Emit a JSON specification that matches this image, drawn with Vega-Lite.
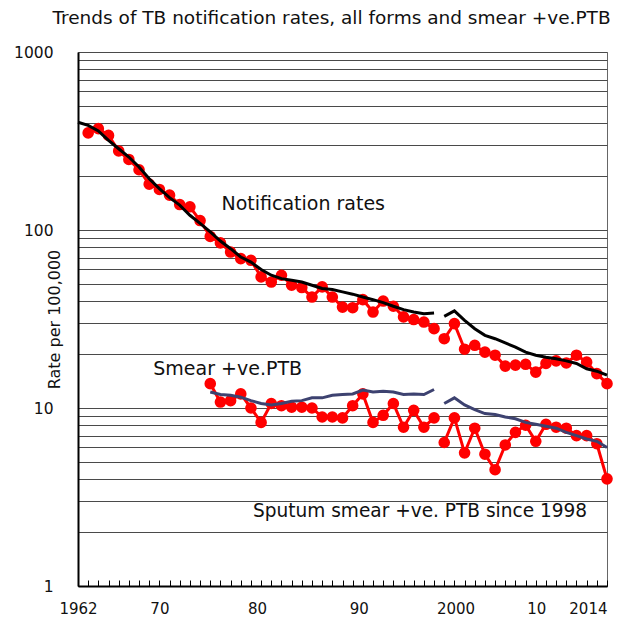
{
  "$schema": "https://vega.github.io/schema/vega-lite/v6.json",
  "width": 529,
  "height": 534,
  "autosize": {"type": "none"},
  "padding": {"left": 78, "top": 52, "right": 23, "bottom": 32},
  "background": "white",
  "config": {"font": "DejaVu Sans", "view": {"stroke": "#666", "strokeWidth": 1}},
  "title": {"text": "Trends of TB notification rates, all forms and smear +ve.PTB", "fontSize": 18.5, "fontWeight": "normal", "color": "#111", "anchor": "middle", "frame": "group", "dx": -11, "offset": 18, "font": "DejaVu Sans"},
  "datasets": {
    "obs": [
      {"yr":1963,"s":"N","g":"N1","v":351},{"yr":1964,"s":"N","g":"N1","v":371},{"yr":1965,"s":"N","g":"N1","v":340},{"yr":1966,"s":"N","g":"N1","v":278},{"yr":1967,"s":"N","g":"N1","v":249},{"yr":1968,"s":"N","g":"N1","v":218},{"yr":1969,"s":"N","g":"N1","v":181},{"yr":1970,"s":"N","g":"N1","v":169},{"yr":1971,"s":"N","g":"N1","v":157},{"yr":1972,"s":"N","g":"N1","v":139},{"yr":1973,"s":"N","g":"N1","v":135},{"yr":1974,"s":"N","g":"N1","v":113},{"yr":1975,"s":"N","g":"N1","v":92},{"yr":1976,"s":"N","g":"N1","v":84.6},{"yr":1977,"s":"N","g":"N1","v":75.2},{"yr":1978,"s":"N","g":"N1","v":69},{"yr":1979,"s":"N","g":"N1","v":67.6},{"yr":1980,"s":"N","g":"N1","v":54.5},{"yr":1981,"s":"N","g":"N1","v":51},{"yr":1982,"s":"N","g":"N1","v":55.7},{"yr":1983,"s":"N","g":"N1","v":49},{"yr":1984,"s":"N","g":"N1","v":47.5},{"yr":1985,"s":"N","g":"N1","v":42},{"yr":1986,"s":"N","g":"N1","v":47.9},{"yr":1987,"s":"N","g":"N1","v":42},{"yr":1988,"s":"N","g":"N1","v":36.9},{"yr":1989,"s":"N","g":"N1","v":36.6},{"yr":1990,"s":"N","g":"N1","v":40.6},{"yr":1991,"s":"N","g":"N1","v":34.6},{"yr":1992,"s":"N","g":"N1","v":39.9},{"yr":1993,"s":"N","g":"N1","v":37.3},{"yr":1994,"s":"N","g":"N1","v":32.5},{"yr":1995,"s":"N","g":"N1","v":31.4},{"yr":1996,"s":"N","g":"N1","v":30.4},{"yr":1997,"s":"N","g":"N1","v":27.9},
      {"yr":1998,"s":"N","g":"N2","v":24.5},{"yr":1999,"s":"N","g":"N2","v":29.8},{"yr":2000,"s":"N","g":"N2","v":21.4},{"yr":2001,"s":"N","g":"N2","v":22.5},{"yr":2002,"s":"N","g":"N2","v":20.6},{"yr":2003,"s":"N","g":"N2","v":19.8},{"yr":2004,"s":"N","g":"N2","v":17.2},{"yr":2005,"s":"N","g":"N2","v":17.4},{"yr":2006,"s":"N","g":"N2","v":17.6},{"yr":2007,"s":"N","g":"N2","v":15.9},{"yr":2008,"s":"N","g":"N2","v":17.8},{"yr":2009,"s":"N","g":"N2","v":18.4},{"yr":2010,"s":"N","g":"N2","v":17.9},{"yr":2011,"s":"N","g":"N2","v":19.8},{"yr":2012,"s":"N","g":"N2","v":18.1},{"yr":2013,"s":"N","g":"N2","v":15.6},{"yr":2014,"s":"N","g":"N2","v":13.7},
      {"yr":1975,"s":"S","g":"S1","v":13.7},{"yr":1976,"s":"S","g":"S1","v":10.8},{"yr":1977,"s":"S","g":"S1","v":11.0},{"yr":1978,"s":"S","g":"S1","v":12.0},{"yr":1979,"s":"S","g":"S1","v":10.0},{"yr":1980,"s":"S","g":"S1","v":8.3},{"yr":1981,"s":"S","g":"S1","v":10.6},{"yr":1982,"s":"S","g":"S1","v":10.3},{"yr":1983,"s":"S","g":"S1","v":10.1},{"yr":1984,"s":"S","g":"S1","v":10.1},{"yr":1985,"s":"S","g":"S1","v":10.0},{"yr":1986,"s":"S","g":"S1","v":8.9},{"yr":1987,"s":"S","g":"S1","v":8.9},{"yr":1988,"s":"S","g":"S1","v":8.8},{"yr":1989,"s":"S","g":"S1","v":10.3},{"yr":1990,"s":"S","g":"S1","v":12.0},{"yr":1991,"s":"S","g":"S1","v":8.3},{"yr":1992,"s":"S","g":"S1","v":9.1},{"yr":1993,"s":"S","g":"S1","v":10.6},{"yr":1994,"s":"S","g":"S1","v":7.8},{"yr":1995,"s":"S","g":"S1","v":9.7},{"yr":1996,"s":"S","g":"S1","v":7.8},{"yr":1997,"s":"S","g":"S1","v":8.8},
      {"yr":1998,"s":"S","g":"S2","v":6.4},{"yr":1999,"s":"S","g":"S2","v":8.8},{"yr":2000,"s":"S","g":"S2","v":5.6},{"yr":2001,"s":"S","g":"S2","v":7.7},{"yr":2002,"s":"S","g":"S2","v":5.5},{"yr":2003,"s":"S","g":"S2","v":4.5},{"yr":2004,"s":"S","g":"S2","v":6.2},{"yr":2005,"s":"S","g":"S2","v":7.3},{"yr":2006,"s":"S","g":"S2","v":8.0},{"yr":2007,"s":"S","g":"S2","v":6.5},{"yr":2008,"s":"S","g":"S2","v":8.1},{"yr":2009,"s":"S","g":"S2","v":7.8},{"yr":2010,"s":"S","g":"S2","v":7.7},{"yr":2011,"s":"S","g":"S2","v":7.0},{"yr":2012,"s":"S","g":"S2","v":7.0},{"yr":2013,"s":"S","g":"S2","v":6.3},{"yr":2014,"s":"S","g":"S2","v":4.0}
    ],
    "trend": [
      {"yr":1962,"s":"N","g":"N1","v":403},{"yr":1963,"s":"N","g":"N1","v":387},{"yr":1964,"s":"N","g":"N1","v":360},{"yr":1965,"s":"N","g":"N1","v":319},{"yr":1966,"s":"N","g":"N1","v":286},{"yr":1967,"s":"N","g":"N1","v":257},{"yr":1968,"s":"N","g":"N1","v":226},{"yr":1969,"s":"N","g":"N1","v":194},{"yr":1970,"s":"N","g":"N1","v":171},{"yr":1971,"s":"N","g":"N1","v":152},{"yr":1972,"s":"N","g":"N1","v":138},{"yr":1973,"s":"N","g":"N1","v":121},{"yr":1974,"s":"N","g":"N1","v":109},{"yr":1975,"s":"N","g":"N1","v":97.5},{"yr":1976,"s":"N","g":"N1","v":86.7},{"yr":1977,"s":"N","g":"N1","v":78.5},{"yr":1978,"s":"N","g":"N1","v":70.5},{"yr":1979,"s":"N","g":"N1","v":66},{"yr":1980,"s":"N","g":"N1","v":60},{"yr":1981,"s":"N","g":"N1","v":55.7},{"yr":1982,"s":"N","g":"N1","v":53.3},{"yr":1983,"s":"N","g":"N1","v":52.2},{"yr":1984,"s":"N","g":"N1","v":51},{"yr":1985,"s":"N","g":"N1","v":48.9},{"yr":1986,"s":"N","g":"N1","v":46.9},{"yr":1987,"s":"N","g":"N1","v":46.3},{"yr":1988,"s":"N","g":"N1","v":44.9},{"yr":1989,"s":"N","g":"N1","v":43.6},{"yr":1990,"s":"N","g":"N1","v":42},{"yr":1991,"s":"N","g":"N1","v":40.6},{"yr":1992,"s":"N","g":"N1","v":39.1},{"yr":1993,"s":"N","g":"N1","v":37.3},{"yr":1994,"s":"N","g":"N1","v":35.7},{"yr":1995,"s":"N","g":"N1","v":34.6},{"yr":1996,"s":"N","g":"N1","v":33.9},{"yr":1997,"s":"N","g":"N1","v":34.2},
      {"yr":1998,"s":"N","g":"N2","v":32.7},{"yr":1999,"s":"N","g":"N2","v":35.1},{"yr":2000,"s":"N","g":"N2","v":31.1},{"yr":2001,"s":"N","g":"N2","v":27.9},{"yr":2002,"s":"N","g":"N2","v":25.6},{"yr":2003,"s":"N","g":"N2","v":24.5},{"yr":2004,"s":"N","g":"N2","v":23.2},{"yr":2005,"s":"N","g":"N2","v":22},{"yr":2006,"s":"N","g":"N2","v":20.6},{"yr":2007,"s":"N","g":"N2","v":19.8},{"yr":2008,"s":"N","g":"N2","v":19.3},{"yr":2009,"s":"N","g":"N2","v":18.9},{"yr":2010,"s":"N","g":"N2","v":18.4},{"yr":2011,"s":"N","g":"N2","v":17.8},{"yr":2012,"s":"N","g":"N2","v":16.6},{"yr":2013,"s":"N","g":"N2","v":16.1},{"yr":2014,"s":"N","g":"N2","v":15.3},
      {"yr":1975,"s":"S","g":"S1","v":12.3},{"yr":1976,"s":"S","g":"S1","v":11.9},{"yr":1977,"s":"S","g":"S1","v":11.8},{"yr":1978,"s":"S","g":"S1","v":11.5},{"yr":1979,"s":"S","g":"S1","v":11.0},{"yr":1980,"s":"S","g":"S1","v":10.6},{"yr":1981,"s":"S","g":"S1","v":10.4},{"yr":1982,"s":"S","g":"S1","v":10.6},{"yr":1983,"s":"S","g":"S1","v":10.9},{"yr":1984,"s":"S","g":"S1","v":11.0},{"yr":1985,"s":"S","g":"S1","v":11.4},{"yr":1986,"s":"S","g":"S1","v":11.4},{"yr":1987,"s":"S","g":"S1","v":11.8},{"yr":1988,"s":"S","g":"S1","v":11.9},{"yr":1989,"s":"S","g":"S1","v":12.0},{"yr":1990,"s":"S","g":"S1","v":12.6},{"yr":1991,"s":"S","g":"S1","v":12.3},{"yr":1992,"s":"S","g":"S1","v":12.4},{"yr":1993,"s":"S","g":"S1","v":12.3},{"yr":1994,"s":"S","g":"S1","v":11.9},{"yr":1995,"s":"S","g":"S1","v":12.0},{"yr":1996,"s":"S","g":"S1","v":11.9},{"yr":1997,"s":"S","g":"S1","v":12.7},
      {"yr":1998,"s":"S","g":"S2","v":10.6},{"yr":1999,"s":"S","g":"S2","v":11.4},{"yr":2000,"s":"S","g":"S2","v":10.4},{"yr":2001,"s":"S","g":"S2","v":9.8},{"yr":2002,"s":"S","g":"S2","v":9.3},{"yr":2003,"s":"S","g":"S2","v":9.2},{"yr":2004,"s":"S","g":"S2","v":8.9},{"yr":2005,"s":"S","g":"S2","v":8.7},{"yr":2006,"s":"S","g":"S2","v":8.3},{"yr":2007,"s":"S","g":"S2","v":8.1},{"yr":2008,"s":"S","g":"S2","v":7.9},{"yr":2009,"s":"S","g":"S2","v":7.7},{"yr":2010,"s":"S","g":"S2","v":7.3},{"yr":2011,"s":"S","g":"S2","v":7.0},{"yr":2012,"s":"S","g":"S2","v":6.7},{"yr":2013,"s":"S","g":"S2","v":6.5},{"yr":2014,"s":"S","g":"S2","v":6.0}
    ],
    "notes": [
      {"yr": 1976.1, "v": 129, "t": "Notification rates"},
      {"yr": 1969.4, "v": 15.3, "t": "Smear +ve.PTB"},
      {"yr": 1979.2, "v": 2.44, "t": "Sputum smear +ve. PTB since 1998"}
    ]
  },
  "encoding": {
    "x": {
      "field": "yr", "type": "quantitative",
      "scale": {"domain": [1962, 2014], "nice": false, "zero": false},
      "axis": {
        "title": null,
        "values": [1962,1963,1964,1965,1966,1967,1968,1969,1970,1971,1972,1973,1974,1975,1976,1977,1978,1979,1980,1981,1982,1983,1984,1985,1986,1987,1988,1989,1990,1991,1992,1993,1994,1995,1996,1997,1998,1999,2000,2001,2002,2003,2004,2005,2006,2007,2008,2009,2010,2011,2012,2013,2014],
        "grid": false,
        "domainColor": "#000", "domainWidth": 2,
        "tickColor": "#000", "tickSize": -6, "tickWidth": 1,
        "labelFontSize": 15, "labelColor": "#111", "labelPadding": 21,
        "labelOverlap": false, "labelBound": false, "labelFlush": false,
        "labelExpr": "datum.value==1962?'1962':datum.value==1970?'70':datum.value==1980?'80':datum.value==1990?'90':datum.value==2000?'2000':datum.value==2010?'10':datum.value==2014?'2014':''",
        "labelAlign": {"condition": {"test": "datum.value==2014", "value": "right"}, "value": "center"},
        "labelOffset": {"condition": [{"test": "datum.value==2010", "value": -30}, {"test": "datum.value==2000", "value": -9}, {"test": "datum.value==1990 || datum.value==1980", "value": -4}], "value": 0}
      }
    },
    "y": {
      "field": "v", "type": "quantitative",
      "scale": {"type": "log", "domain": [1, 1000], "nice": false},
      "axis": {
        "title": "Rate per 100,000", "titleFontSize": 16, "titleFontWeight": "normal", "titleColor": "#111",
        "titleX": -24, "titleY": 267, "titleAngle": -90, "titleBaseline": "middle", "titleAlign": "center",
        "values": [1,2,3,4,5,6,7,8,9,10,20,30,40,50,60,70,80,90,100,200,300,400,500,600,700,800,900,1000],
        "grid": true, "gridColor": "#4a4a4a", "gridWidth": 1, "gridOpacity": 1,
        "ticks": false, "domainColor": "#000", "domainWidth": 2,
        "labelFontSize": 15.5, "labelPadding": 25, "labelColor": "#111",
        "labelExpr": "(datum.value==1||datum.value==10||datum.value==100||datum.value==1000)?format(datum.value,'d'):''"
      }
    }
  },
  "layer": [
    {"data": {"name": "obs"}, "mark": {"type": "line", "color": "#ff0000", "strokeWidth": 3}, "encoding": {"detail": {"field": "g"}}},
    {"data": {"name": "obs"}, "mark": {"type": "circle", "color": "#ff0000", "size": 135, "opacity": 1}},
    {"data": {"name": "trend"}, "mark": {"type": "line", "strokeWidth": 3}, "encoding": {"detail": {"field": "g"}, "color": {"field": "s", "type": "nominal", "scale": {"domain": ["N", "S"], "range": ["#000000", "#3d4270"]}, "legend": null}}},
    {"data": {"name": "notes"}, "mark": {"type": "text", "fontSize": 19, "align": "left", "baseline": "alphabetic", "color": "#111"}, "encoding": {"text": {"field": "t"}, "size": {"condition": {"test": "datum.t == 'Sputum smear +ve. PTB since 1998'", "value": 18.55}, "value": 19}}}
  ]
}
